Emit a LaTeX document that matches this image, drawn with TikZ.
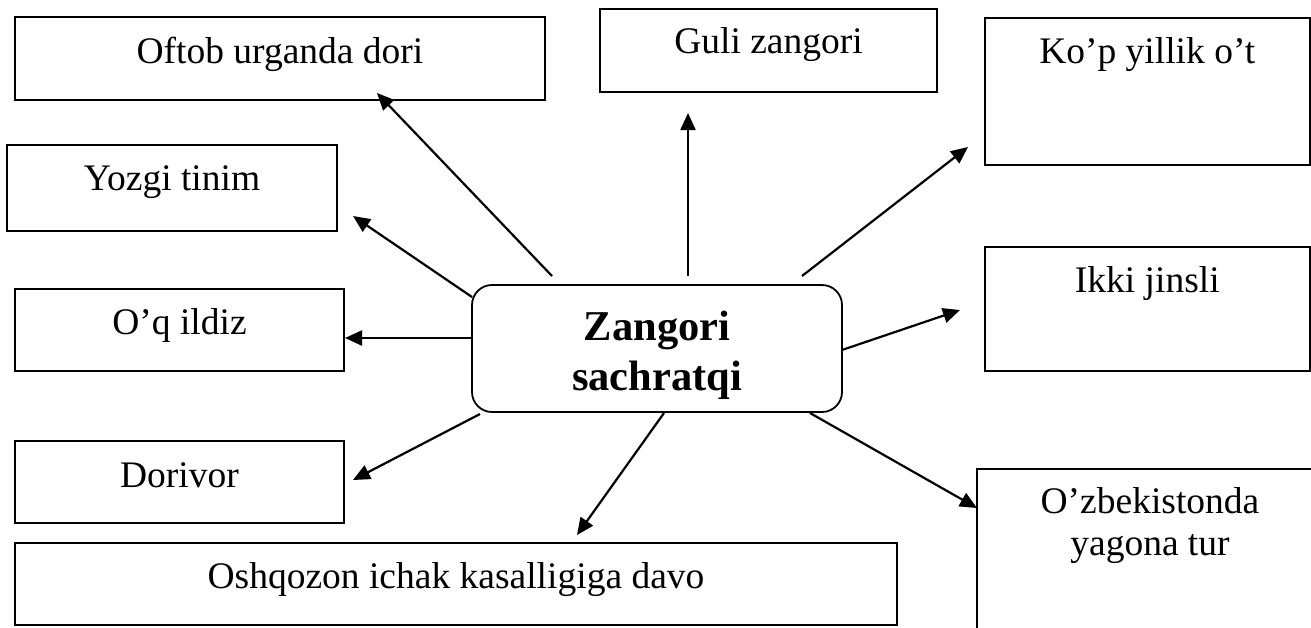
\documentclass[tikz,border=0pt]{standalone}
\usepackage{fontspec}
\setmainfont{Liberation Serif}
\usetikzlibrary{arrows.meta}
\begin{document}
\begin{tikzpicture}[x=1pt,y=-1pt,
  box/.style={draw, line width=2pt, rectangle, inner sep=0pt, outer sep=0pt,
    anchor=north west, font=\fontsize{37.5}{42}\selectfont},
  hubbox/.style={draw, line width=1.8pt, rectangle, rounded corners=20pt,
    inner sep=0pt, outer sep=0pt, anchor=north west,
    font=\fontsize{42.5}{50}\selectfont\bfseries},
  arr/.style={line width=2.2pt, -{Triangle[length=17pt,width=15pt]}}]
\useasboundingbox (0,0) rectangle (1311,627);

% boxes
\node[box, minimum width=530pt, text height=46pt, text depth=37pt] (oftob) at (15,17) {Oftob urganda dori};
\node[box, minimum width=337pt, text height=44pt, text depth=39pt] (guli) at (600,9) {Guli zangori};
\node[box, minimum width=324.5pt, text height=45pt, text depth=102pt] (kop) at (985,18) {Ko’p yillik o’t};
\node[box, minimum width=330pt, text height=45pt, text depth=41pt] (yozgi) at (7,145) {Yozgi tinim};
\node[box, minimum width=329pt, text height=45pt, text depth=37pt] (oq) at (15,289) {O’q ildiz};
\node[box, minimum width=324.5pt, text height=45pt, text depth=79pt] (ikki) at (985,247) {Ikki jinsli};
\node[box, minimum width=329pt, text height=46pt, text depth=36pt] (dori) at (15,441) {Dorivor};
\node[box, minimum width=882pt, text height=45pt, text depth=37pt] (osh) at (15,543) {Oshqozon ichak kasalligiga davo};
\node[box, minimum width=346pt, text height=44pt, text depth=132pt] (uzb) at (977,469)
  {\begin{tabular}[t]{@{}c@{}}O’zbekistonda\\yagona tur\end{tabular}};

% central node
\node[hubbox, minimum width=370pt, text height=55pt, text depth=72pt] (hub) at (472,285)
  {\begin{tabular}[t]{@{}c@{}}Zangori\\sachratqi\end{tabular}};

% arrow ends
\coordinate (s1) at (552,276); \coordinate (e1) at (377,93);
\coordinate (s2) at (688,276); \coordinate (e2) at (688,113);
\coordinate (s3) at (802,276); \coordinate (e3) at (968,147);
\coordinate (s4) at (472,297); \coordinate (e4) at (353,216);
\coordinate (s5) at (472,338); \coordinate (e5) at (345,338);
\coordinate (s6) at (842,350); \coordinate (e6) at (960,310);
\coordinate (s7) at (480,414); \coordinate (e7) at (353,480);
\coordinate (s8) at (664,413); \coordinate (e8) at (577,535);
\coordinate (s9) at (810,413); \coordinate (e9) at (977,508);

\draw[arr] (s1) -- (e1);
\draw[arr] (s2) -- (e2);
\draw[arr] (s3) -- (e3);
\draw[arr] (s4) -- (e4);
\draw[arr] (s5) -- (e5);
\draw[arr] (s6) -- (e6);
\draw[arr] (s7) -- (e7);
\draw[arr] (s8) -- (e8);
\draw[arr] (s9) -- (e9);
\end{tikzpicture}
\end{document}
